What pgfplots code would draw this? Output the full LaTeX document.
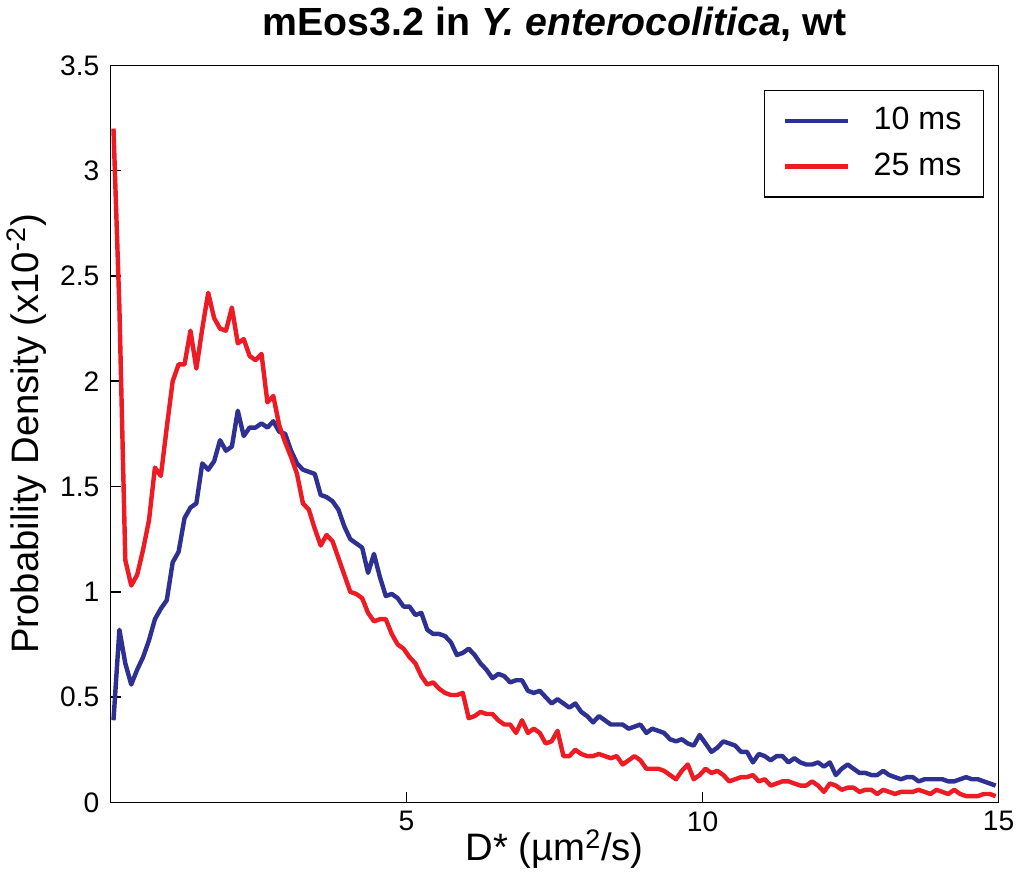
\documentclass[border=0pt]{standalone}
\usepackage{fontspec}
\setmainfont{Liberation Sans}
\usepackage{pgfplots}
\usepackage{pgfplotstable}
\pgfplotsset{compat=1.18}
\definecolor{c10}{RGB}{46,49,146}
\definecolor{c25}{RGB}{237,28,36}

% D*, density at 10 ms, density at 25 ms (x10^-2)
\pgfplotstableread{
x b r
0.05 0.39 3.20
0.15 0.82 2.35
0.25 0.66 1.15
0.35 0.56 1.03
0.45 0.63 1.08
0.55 0.69 1.20
0.65 0.77 1.34
0.75 0.87 1.59
0.85 0.92 1.55
0.95 0.96 1.78
1.05 1.14 2.00
1.15 1.19 2.08
1.25 1.35 2.08
1.35 1.40 2.24
1.45 1.42 2.06
1.55 1.61 2.25
1.65 1.58 2.42
1.75 1.62 2.30
1.85 1.72 2.25
1.95 1.67 2.24
2.05 1.69 2.35
2.15 1.86 2.18
2.25 1.74 2.20
2.35 1.78 2.12
2.45 1.78 2.10
2.55 1.80 2.13
2.65 1.78 1.90
2.75 1.81 1.93
2.85 1.76 1.79
2.95 1.75 1.71
3.05 1.67 1.64
3.15 1.61 1.56
3.25 1.58 1.42
3.35 1.57 1.39
3.45 1.56 1.30
3.55 1.46 1.22
3.65 1.45 1.27
3.75 1.43 1.24
3.85 1.39 1.16
3.95 1.31 1.08
4.05 1.25 1.00
4.15 1.23 0.99
4.25 1.21 0.97
4.35 1.09 0.90
4.45 1.18 0.86
4.55 1.07 0.87
4.65 0.98 0.87
4.75 0.99 0.80
4.85 0.97 0.75
4.95 0.93 0.73
5.05 0.93 0.69
5.15 0.89 0.66
5.25 0.90 0.60
5.35 0.82 0.56
5.45 0.80 0.57
5.55 0.80 0.54
5.65 0.79 0.52
5.75 0.76 0.51
5.85 0.70 0.51
5.95 0.71 0.52
6.05 0.73 0.40
6.15 0.70 0.41
6.25 0.66 0.43
6.35 0.63 0.42
6.45 0.59 0.42
6.55 0.61 0.39
6.65 0.60 0.37
6.75 0.57 0.37
6.85 0.58 0.33
6.95 0.58 0.39
7.05 0.53 0.33
7.15 0.52 0.35
7.25 0.53 0.33
7.35 0.50 0.28
7.45 0.47 0.29
7.55 0.49 0.34
7.65 0.47 0.22
7.75 0.45 0.22
7.85 0.47 0.25
7.95 0.43 0.23
8.05 0.41 0.22
8.15 0.38 0.22
8.25 0.41 0.23
8.35 0.39 0.22
8.45 0.37 0.21
8.55 0.37 0.22
8.65 0.37 0.18
8.75 0.35 0.20
8.85 0.36 0.22
8.95 0.37 0.20
9.05 0.33 0.16
9.15 0.35 0.16
9.25 0.34 0.16
9.35 0.33 0.15
9.45 0.30 0.13
9.55 0.29 0.11
9.65 0.30 0.15
9.75 0.28 0.18
9.85 0.27 0.11
9.95 0.32 0.13
10.05 0.28 0.16
10.15 0.24 0.14
10.25 0.26 0.15
10.35 0.29 0.13
10.45 0.28 0.10
10.55 0.27 0.11
10.65 0.24 0.12
10.75 0.24 0.12
10.85 0.19 0.13
10.95 0.23 0.10
11.05 0.22 0.11
11.15 0.20 0.08
11.25 0.22 0.09
11.35 0.22 0.10
11.45 0.19 0.10
11.55 0.21 0.09
11.65 0.19 0.08
11.75 0.18 0.08
11.85 0.18 0.10
11.95 0.19 0.08
12.05 0.17 0.05
12.15 0.19 0.09
12.25 0.13 0.08
12.35 0.16 0.06
12.45 0.18 0.07
12.55 0.16 0.07
12.65 0.14 0.05
12.75 0.14 0.06
12.85 0.13 0.06
12.95 0.13 0.04
13.05 0.15 0.06
13.15 0.13 0.05
13.25 0.12 0.04
13.35 0.11 0.05
13.45 0.12 0.05
13.55 0.12 0.05
13.65 0.10 0.06
13.75 0.11 0.05
13.85 0.11 0.04
13.95 0.11 0.06
14.05 0.11 0.05
14.15 0.10 0.04
14.25 0.10 0.06
14.35 0.11 0.04
14.45 0.12 0.03
14.55 0.11 0.03
14.65 0.11 0.03
14.75 0.10 0.04
14.85 0.09 0.04
14.95 0.08 0.03
}\dens

\begin{document}
\begin{tikzpicture}
\begin{axis}[
  scale only axis, width=441pt, height=366pt,
  xmin=0, xmax=15, ymin=0, ymax=3.5,
  xtick={5,10,15}, ytick={0,0.5,...,3.5},
  tick pos=left, tick align=inside, major tick length=5pt,
  axis line style={line width=0.8pt}, tick style={line width=0.8pt, black},
  /pgf/number format/assume math mode=true,
  ticklabel style={font=\fontsize{14}{16}\selectfont},
  yticklabel style={xshift=-2pt},
  xticklabel style={yshift=-1pt},
  title={\textbf{mEos3.2 in \textit{Y. enterocolitica}, wt}},
  title style={font=\fontsize{19.5}{22}\selectfont, at={(axis description cs:0.5,1.0246)}, anchor=base},
  xlabel={D* (µm\textsuperscript{2}/s)},
  xlabel style={font=\fontsize{19}{22}\selectfont, at={(axis description cs:0.5,-0.079)}, anchor=base},
  ylabel={Probability Density (x10\textsuperscript{-2})},
  ylabel style={font=\fontsize{19}{22}\selectfont, at={(axis description cs:-0.0816,0.5)}, anchor=base},
  legend style={at={(0.984,0.967)}, anchor=north east, draw=black, line width=0.8pt,
    font=\fontsize{16}{19}\selectfont, inner xsep=9pt, inner ysep=6pt,
    nodes={text height=11.5pt, text depth=3pt}, row sep=4pt},
  legend cell align=left,
  legend image code/.code={\draw[#1] (0pt,0pt) -- (31.5pt,0pt);},
  every axis plot/.append style={line width=2.2pt, line join=round},
]
\addplot[c10] table[x=x, y=b] {\dens};
\addlegendentry{\hspace{9.5pt}10 ms}
\addplot[c25] table[x=x, y=r] {\dens};
\addlegendentry{\hspace{9.5pt}25 ms}
\end{axis}
\end{tikzpicture}
\end{document}
